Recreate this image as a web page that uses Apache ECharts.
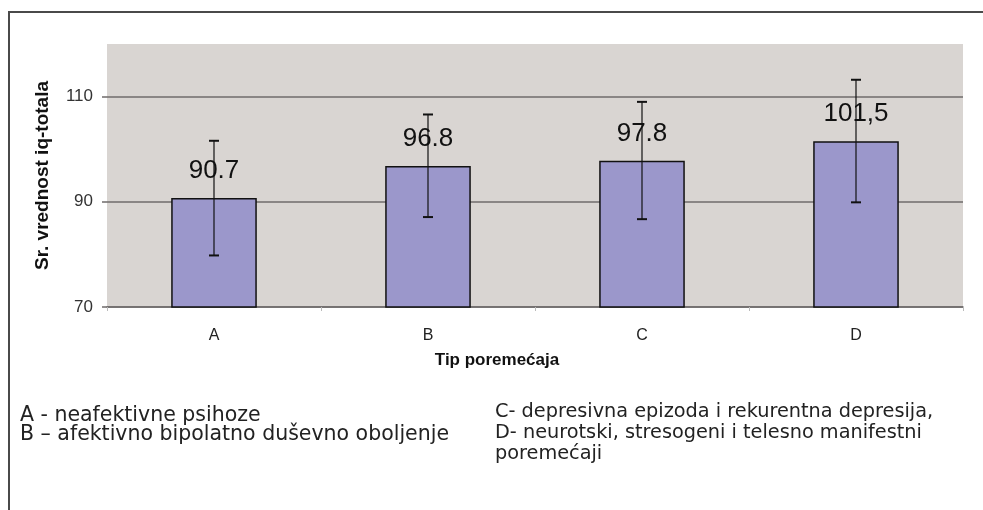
<!DOCTYPE html>
<html>
<head>
<meta charset="utf-8">
<script src="https://cdn.jsdelivr.net/npm/echarts@6/dist/echarts.min.js"></script>
<style>
html,body{margin:0;padding:0;background:#fff;}
#chart{width:983px;height:510px;}
</style>
</head>
<body>
<div id="chart"></div>
<script>
const categories = ['A', 'B', 'C', 'D'];
const means = [90.7, 96.8, 97.8, 101.5];
const errLow = [79.8, 87.1, 86.7, 89.9];
const errHigh = [101.6, 106.6, 109.0, 113.2];
const valueLabels = ['90.7', '96.8', '97.8', '101,5'];
const yTicks = [70, 90, 110];
const legendLeft = ['A - neafektivne psihoze', 'B \u2013 afektivno bipolatno du\u0161evno oboljenje'];
const legendRight = ['C- depresivna epizoda i rekurentna depresija,', 'D- neurotski, stresogeni i telesno manifestni', 'poreme\u0107aji'];

const chart = echarts.init(document.getElementById('chart'));

const graphics = [
  { type: 'polyline', shape: { points: [[9, 515], [9, 12], [990, 12]] }, style: { stroke: '#4a4a4a', lineWidth: 2, fill: null }, silent: true }
];
legendLeft.forEach((t, i) => {
  graphics.push({ type: 'text', left: 20, top: 405 + i * 19, style: { text: t, font: '20.5px "DejaVu Sans"', fill: '#222' } });
});
legendRight.forEach((t, i) => {
  graphics.push({ type: 'text', left: 495, top: 402 + i * 21, style: { text: t, font: '19.3px "DejaVu Sans"', fill: '#222' } });
});

chart.setOption({
  animation: false,
  backgroundColor: '#ffffff',
  textStyle: { fontFamily: '"Liberation Sans", Arial, sans-serif' },
  grid: { left: 107, right: 20, top: 44, bottom: 203, show: true, backgroundColor: '#d9d5d2', borderWidth: 0 },
  xAxis: {
    type: 'category',
    data: categories,
    name: 'Tip poreme\u0107aja',
    nameLocation: 'middle',
    nameGap: 45,
    nameTextStyle: { fontSize: 17, fontWeight: 'bold', color: '#111', padding: [0, 76, 0, 0] },
    axisLine: { show: true, lineStyle: { color: '#6f6b6b', width: 1.5 } },
    axisTick: { show: true, length: 4, lineStyle: { color: '#bbb' } },
    axisLabel: { fontSize: 16, color: '#222', margin: 21 },
    splitLine: { show: false }
  },
  yAxis: {
    type: 'value',
    min: 70,
    max: 120,
    interval: 20,
    name: 'Sr. vrednost iq-totala',
    nameLocation: 'middle',
    nameGap: 55,
    nameTextStyle: { fontSize: 19, fontWeight: 'bold', color: '#111' },
    axisLine: { show: false },
    axisTick: { show: true, length: 5, customValues: yTicks, lineStyle: { color: '#6f6b6b', width: 1.5 } },
    axisLabel: { fontSize: 17, color: '#333', margin: 14, customValues: yTicks },
    splitLine: { show: true, lineStyle: { color: ['#6f6b6b', '#6f6b6b', '#6f6b6b', 'rgba(0,0,0,0)'], width: 1.5 } }
  },
  series: [
    {
      type: 'bar',
      data: means,
      barWidth: '40%',
      itemStyle: { color: '#9b97cb', borderColor: '#111', borderWidth: 1.5 },
      label: {
        show: true,
        position: 'top',
        distance: 14,
        fontSize: 26,
        color: '#111',
        formatter: p => valueLabels[p.dataIndex]
      },
      z: 2
    },
    {
      type: 'custom',
      z: 10,
      data: categories.map((c, i) => [i, errLow[i], errHigh[i]]),
      renderItem: function (params, api) {
        const x = api.value(0);
        const lo = api.coord([x, api.value(1)]);
        const hi = api.coord([x, api.value(2)]);
        const hw = 5;
        return {
          type: 'group',
          children: [
            { type: 'line', shape: { x1: hi[0], y1: hi[1], x2: lo[0], y2: lo[1] }, style: { stroke: '#111', lineWidth: 1.2 } },
            { type: 'line', shape: { x1: hi[0] - hw, y1: hi[1], x2: hi[0] + hw, y2: hi[1] }, style: { stroke: '#111', lineWidth: 2 } },
            { type: 'line', shape: { x1: lo[0] - hw, y1: lo[1], x2: lo[0] + hw, y2: lo[1] }, style: { stroke: '#111', lineWidth: 2 } }
          ]
        };
      }
    }
  ],
  graphic: graphics
});
</script>
</body>
</html>
